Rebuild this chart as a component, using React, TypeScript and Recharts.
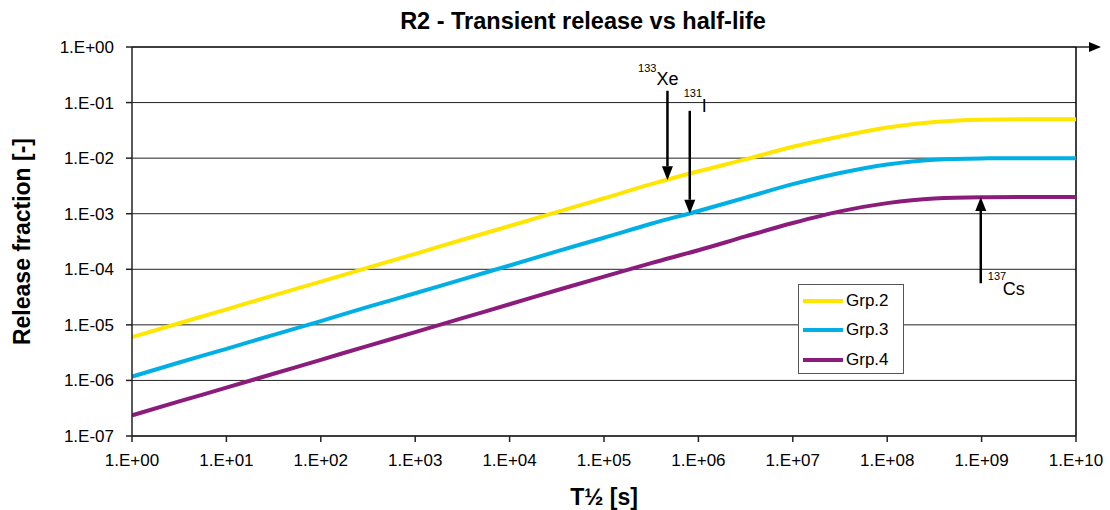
import React from "react";
import {
  LineChart,
  Line,
  XAxis,
  YAxis,
  CartesianGrid,
  Legend,
  ReferenceLine,
  Label,
} from "recharts";

// half-life T½ [s], read at half-decade steps
const halfLife = [
  1, 3.16, 10, 31.6, 100, 316, 1e3, 3.16e3, 1e4, 3.16e4, 1e5, 3.16e5, 1e6,
  3.16e6, 1e7, 3.16e7, 1e8, 3.16e8, 1e9, 3.16e9, 1e10,
];

const grp2 = [
  6.0e-6, 1.07e-5, 1.9e-5, 3.4e-5, 6.0e-5, 1.07e-4, 1.9e-4, 3.4e-4, 6.0e-4,
  1.07e-3, 1.9e-3, 3.4e-3, 5.8e-3, 9.5e-3, 1.6e-2, 2.45e-2, 3.55e-2, 4.45e-2,
  4.9e-2, 5.0e-2, 5.0e-2,
];
const grp3 = [
  1.17e-6, 2.1e-6, 3.7e-6, 6.6e-6, 1.17e-5, 2.1e-5, 3.7e-5, 6.6e-5, 1.17e-4,
  2.1e-4, 3.7e-4, 6.6e-4, 1.12e-3, 1.95e-3, 3.4e-3, 5.4e-3, 7.7e-3, 9.4e-3,
  9.9e-3, 1.0e-2, 1.0e-2,
];
const grp4 = [
  2.35e-7, 4.2e-7, 7.4e-7, 1.32e-6, 2.35e-6, 4.2e-6, 7.4e-6, 1.32e-5, 2.35e-5,
  4.2e-5, 7.4e-5, 1.29e-4, 2.2e-4, 3.9e-4, 6.8e-4, 1.1e-3, 1.55e-3, 1.88e-3,
  1.98e-3, 2.0e-3, 2.0e-3,
];

const xTicks = [1, 1e1, 1e2, 1e3, 1e4, 1e5, 1e6, 1e7, 1e8, 1e9, 1e10];
const yTicks = [1e-7, 1e-6, 1e-5, 1e-4, 1e-3, 1e-2, 1e-1, 1];

// nuclide markers: arrow from -> to at a given half-life
const nuclides = [
  { mass: "133", symbol: "Xe", t: 4.7e5, from: 0.163, to: 4.0e-3 },
  { mass: "131", symbol: "I", t: 8.1e5, from: 0.071, to: 1.0e-3 },
  { mass: "137", symbol: "Cs", t: 9.8e8, from: 5.6e-5, to: 2.0e-3 },
];

const series = [
  { key: "grp2", name: "Grp.2", color: "#FFE600" },
  { key: "grp3", name: "Grp.3", color: "#00B0E4" },
  { key: "grp4", name: "Grp.4", color: "#8C1C7C" },
];

const data = halfLife.map((t, i) => ({
  t,
  grp2: grp2[i],
  grp3: grp3[i],
  grp4: grp4[i],
}));

const FONT = "'Liberation Sans', Arial, sans-serif";

// label offsets (px) relative to arrow tail
const labelLayout: Record<string, { sup: [number, number, string]; main: [number, number, string] }> = {
  Xe: { sup: [-11, -19, "end"], main: [-11, -6, "start"] },
  I: { sup: [-6, -14, "start"], main: [12, 1, "start"] },
  Cs: { sup: [7, -3, "start"], main: [22, 12, "start"] },
};

const sci = (v: number) => {
  const e = Math.round(Math.log10(v));
  return `1.E${e < 0 ? "-" : "+"}${String(Math.abs(e)).padStart(2, "0")}`;
};

function Arrow({ x1, y1, x2, y2, children }: any) {
  const dx = x2 - x1;
  const dy = y2 - y1;
  const len = Math.hypot(dx, dy) || 1;
  const ux = dx / len;
  const uy = dy / len;
  const bx = x2 - ux * 14;
  const by = y2 - uy * 14;
  const px = -uy * 5.5;
  const py = ux * 5.5;
  return (
    <g>
      <line x1={x1} y1={y1} x2={bx} y2={by} stroke="#000" strokeWidth={2.5} />
      <polygon
        points={`${x2},${y2} ${bx + px},${by + py} ${bx - px},${by - py}`}
        fill="#000"
      />
      {children}
    </g>
  );
}

function nuclideShape(n: (typeof nuclides)[number]) {
  return (p: any) => {
    const lay = labelLayout[n.symbol];
    return (
      <Arrow {...p}>
        <text
          x={p.x1 + lay.sup[0]}
          y={p.y1 + lay.sup[1]}
          textAnchor={lay.sup[2]}
          fontSize={11}
          fontFamily={FONT}
          fill="#000"
        >
          {n.mass}
        </text>
        <text
          x={p.x1 + lay.main[0]}
          y={p.y1 + lay.main[1]}
          textAnchor={lay.main[2]}
          fontSize={18}
          fontFamily={FONT}
          fill="#000"
        >
          {n.symbol}
        </text>
      </Arrow>
    );
  };
}

const topArrow = (p: any) => {
  const xa = Math.min(p.x1, p.x2);
  const xb = Math.max(p.x1, p.x2);
  const y = p.y1;
  return (
    <g>
      <line x1={xa} y1={y} x2={xb + 14} y2={y} stroke="#222" strokeWidth={1.5} />
      <polygon
        points={`${xb + 25},${y} ${xb + 13},${y - 5} ${xb + 13},${y + 5}`}
        fill="#000"
      />
    </g>
  );
};

const renderLegend = () => (
  <div
    style={{
      border: "1px solid #555",
      background: "#fff",
      width: 106,
      height: 90,
      boxSizing: "border-box",
      padding: "1px 0 0 4px",
      fontFamily: FONT,
      fontSize: 17,
    }}
  >
    {series.map((s) => (
      <div
        key={s.key}
        style={{ display: "flex", alignItems: "center", height: 29.5 }}
      >
        <div style={{ width: 40, height: 4, background: s.color }} />
        <span style={{ marginLeft: 3, color: "#000" }}>{s.name}</span>
      </div>
    ))}
  </div>
);

export default function App() {
  return (
    <div style={{ position: "relative", width: 1110, height: 510, background: "#fff" }}>
      <style>{"body{margin:0}"}</style>
      <div
        style={{
          position: "absolute",
          top: 9,
          left: 283,
          width: 600,
          textAlign: "center",
          fontFamily: FONT,
          fontWeight: "bold",
          fontSize: 23.5,
          lineHeight: "24px",
          color: "#000",
        }}
      >
        R2 - Transient release vs half-life
      </div>
      <LineChart
        width={1110}
        height={510}
        data={data}
        margin={{ top: 47, right: 34, left: 0, bottom: 0 }}
      >
        <CartesianGrid vertical={false} stroke="#222" strokeWidth={1} />
        <XAxis
          dataKey="t"
          type="number"
          scale="log"
          domain={[1, 1e10]}
          ticks={xTicks}
          interval={0}
          allowDataOverflow
          height={74}
          tickFormatter={sci}
          tickSize={6}
          tickMargin={12}
          stroke="#222"
          strokeWidth={1.5}
          tick={{ fontSize: 17, fill: "#000", fontFamily: FONT }}
        >
          <Label
            value="T½ [s]"
            position="center"
            dy={24}
            style={{ fontSize: 23, fontWeight: "bold", fill: "#000", fontFamily: FONT }}
          />
        </XAxis>
        <YAxis
          type="number"
          scale="log"
          domain={[1e-7, 1]}
          ticks={yTicks}
          interval={0}
          allowDataOverflow
          width={132}
          tickFormatter={sci}
          tickSize={6}
          tickMargin={12}
          stroke="#222"
          strokeWidth={1.5}
          tick={{ fontSize: 17, fill: "#000", fontFamily: FONT }}
        >
          <Label
            value="Release fraction [-]"
            angle={-90}
            position="center"
            dx={-44}
            style={{ fontSize: 23, fontWeight: "bold", fill: "#000", fontFamily: FONT }}
          />
        </YAxis>
        <ReferenceLine y={1} shape={topArrow} />
        <ReferenceLine x={1e10} stroke="#000" strokeWidth={1.5} />
        {series.map((s) => (
          <Line
            key={s.key}
            dataKey={s.key}
            name={s.name}
            type="monotone"
            stroke={s.color}
            strokeWidth={4}
            dot={false}
            activeDot={false}
            isAnimationActive={false}
          />
        ))}
        {nuclides.map((n) => (
          <ReferenceLine
            key={n.symbol}
            segment={[
              { x: n.t, y: n.from },
              { x: n.t, y: n.to },
            ]}
            shape={nuclideShape(n)}
          />
        ))}
        <Legend
          layout="vertical"
          align="center"
          verticalAlign="middle"
          content={renderLegend}
          wrapperStyle={{ left: 798, top: 284, width: 106, height: 90 }}
        />
      </LineChart>
    </div>
  );
}
